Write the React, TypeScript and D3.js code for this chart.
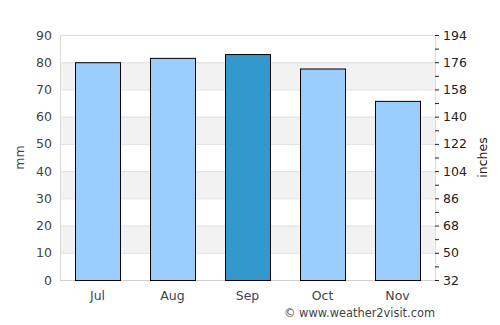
import * as d3 from "d3";
import * as React from "react";

const months = ["Jul", "Aug", "Sep", "Oct", "Nov"];
const rainfall = [80, 81.6, 83, 77.7, 65.8];
const highlight = "Sep";
const leftTicks = [0, 10, 20, 30, 40, 50, 60, 70, 80, 90];
const rightTicks = [32, 50, 68, 86, 104, 122, 140, 158, 176, 194];
const rightMinor = [41, 59, 77, 95, 113, 131, 149, 167, 185];

const width = 500;
const height = 325;
const margin = { top: 35, right: 65, bottom: 45, left: 60 };

export default function App() {
    const x = d3.scaleBand()
        .domain(months)
        .range([margin.left, width - margin.right])
        .paddingInner(0.4)
        .paddingOuter(0.2);

    const y = d3.scaleLinear()
        .domain([0, 90])
        .range([height - margin.bottom, margin.top]);

    const y2 = d3.scaleLinear()
        .domain([32, 194])
        .range([height - margin.bottom, margin.top]);

    const x0 = margin.left;
    const x1 = width - margin.right;
    const font = "DejaVu Sans, sans-serif";

    return (
        <svg width={width} height={height} style={{ position: "absolute", left: 0, top: 0 }} fontFamily={font}>
            <rect x={0} y={0} width={width} height={height} fill="#fff" />
            {/* alternating bands */}
            {leftTicks.slice(0, -1).filter((_, i) => i % 2 === 1).map(t => (
                <rect key={"b" + t} x={x0} y={y(t + 10)} width={x1 - x0} height={y(t) - y(t + 10)} fill="#f2f2f2" />
            ))}
            {leftTicks.map(t => (
                <line key={"g" + t} x1={x0} x2={x1} y1={y(t) + 0.5} y2={y(t) + 0.5} stroke="#e0e0e0" />
            ))}
            <line x1={x0 + 0.5} x2={x0 + 0.5} y1={y(90)} y2={y(0)} stroke="#dcdcdc" />
            <line x1={x1 + 0.5} x2={x1 + 0.5} y1={y(90)} y2={y(0)} stroke="#dcdcdc" />
            <line x1={x0} x2={x1} y1={y(0) + 0.5} y2={y(0) + 0.5} stroke="#d0d0d0" />

            {months.map((m, i) => (
                <rect key={m} x={x(m)! + 0.5} y={y(rainfall[i]) + 0.5} width={x.bandwidth()} height={y(0) - y(rainfall[i])}
                    fill={m === highlight ? "#3399cc" : "#99ccff"} stroke="#000" strokeWidth={1} />
            ))}

            {leftTicks.map(t => (
                <text key={"l" + t} x={52} y={y(t) + 4.5} textAnchor="end" fontSize={12.5} fill="#444">{t}</text>
            ))}
            {rightTicks.map(t => (
                <g key={"r" + t}>
                    <line x1={x1} x2={x1 + 4} y1={y2(t) + 0.5} y2={y2(t) + 0.5} stroke="#222" />
                    <text x={443} y={y2(t) + 4.5} fontSize={12.5} fill="#222">{t}</text>
                </g>
            ))}
            {rightMinor.map(t => (
                <line key={"m" + t} x1={x1} x2={x1 + 4} y1={y2(t) + 0.5} y2={y2(t) + 0.5} stroke="#222" />
            ))}
            {months.map(m => (
                <text key={"x" + m} x={x(m)! + x.bandwidth() / 2} y={300} textAnchor="middle" fontSize={12.5} fill="#444">{m}</text>
            ))}

            <text transform={`translate(24,${(y(0) + y(90)) / 2}) rotate(-90)`} textAnchor="middle" fontSize={12.5} fill="#444">mm</text>
            <text transform={`translate(487,${(y(0) + y(90)) / 2}) rotate(-90)`} textAnchor="middle" fontSize={12.5} fill="#222">inches</text>
            <text x={435} y={317} textAnchor="end" fontSize={11.4} fill="#444">© www.weather2visit.com</text>
        </svg>
    );
}
